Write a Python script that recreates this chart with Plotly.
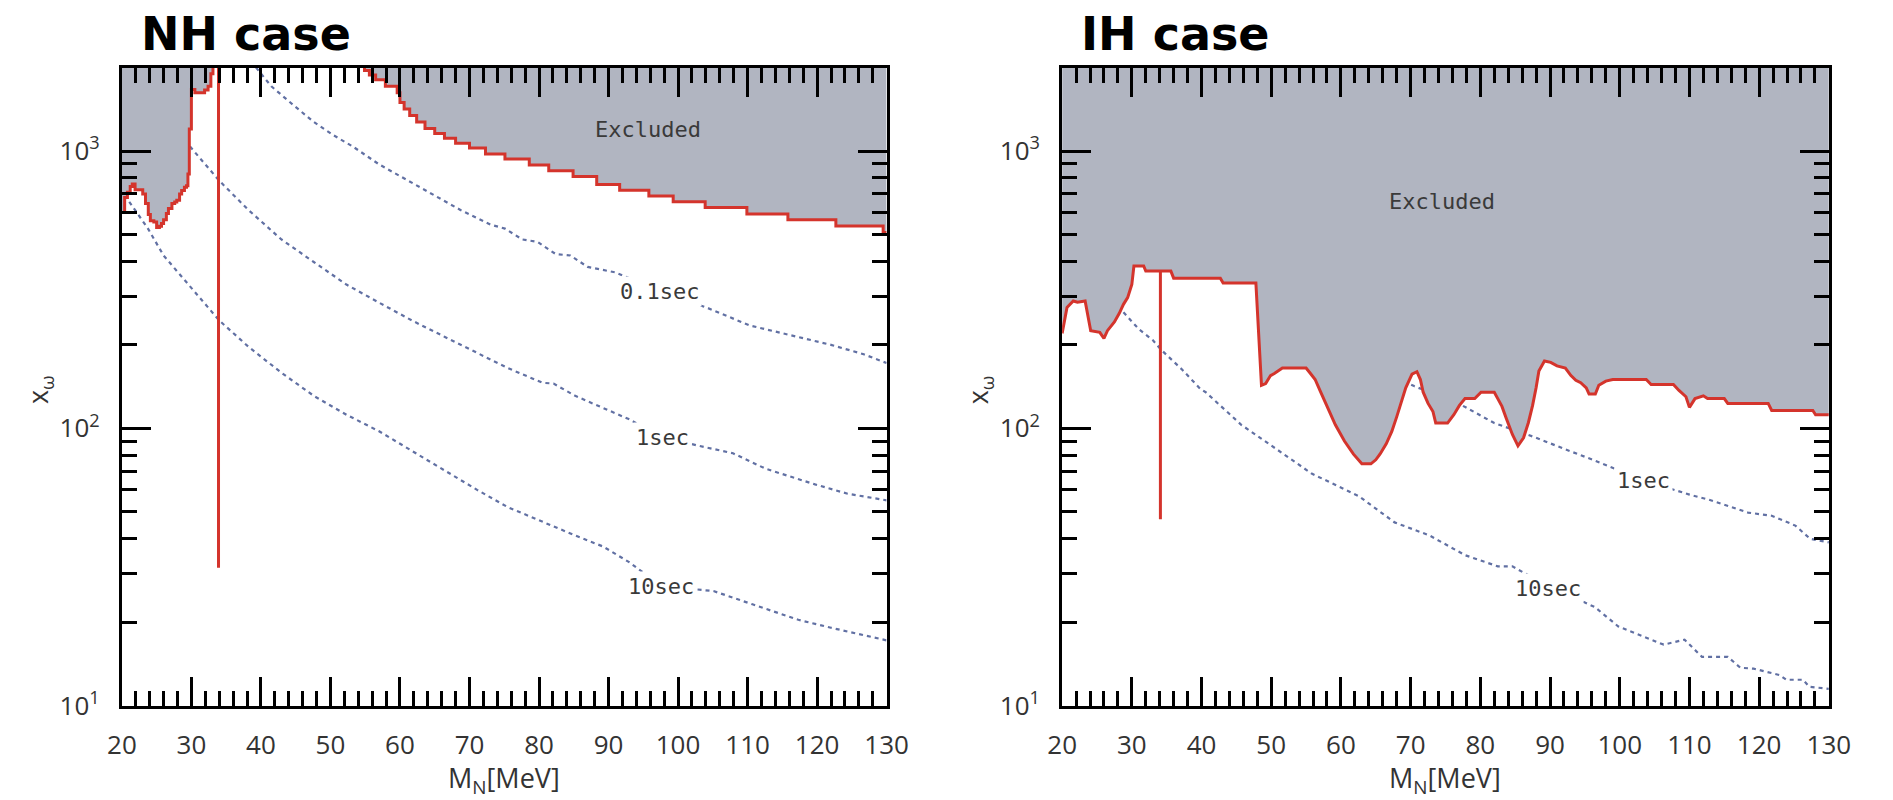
import math
import plotly.graph_objects as go

W, H = 1893, 800

# ---------------- NH case ----------------
# excluded-region edge (step curve: each value holds until the next mass)
nh_edge_m = [20.0, 20.4, 20.8, 21.2, 21.5, 21.9, 23.0, 23.4, 23.8, 24.1, 24.6, 25.0,
             25.4, 25.7, 26.0, 26.4, 26.7, 27.2, 27.6, 27.9, 28.3, 28.6, 29.0, 29.3,
             29.5, 29.7, 30.0, 30.5, 31.9, 32.4, 32.8, 33.1,
             54.9, 55.6, 56.5, 57.9, 59.6, 60.0, 60.6, 61.4, 62.4, 63.6, 65.0, 66.4,
             68.0, 70.0, 72.3, 75.1, 78.6, 81.4, 84.9, 88.3, 91.6, 95.8, 99.3, 103.9,
             109.9, 115.8, 122.7, 129.5, 130.0]
nh_edge_x = [600, 680, 710, 745, 760, 725, 700, 647, 590, 560, 555, 530,
             535, 548, 565, 595, 621, 647, 655, 665, 700, 721, 740, 750,
             826, 1200, 1667, 1623, 1660, 1711, 1900, 3000,
             1950, 1880, 1807, 1711, 1623, 1496, 1417, 1342, 1272, 1205, 1157, 1111,
             1067, 1025, 976, 935, 891, 849, 809, 758, 722, 689, 656, 625,
             593, 565, 537, 508, 508]

nh_stick_m = 33.9
nh_stick_x = [31.4, 2000]

nh_t01_m = [39.3, 41.5, 44.8, 47.6, 50.4, 53.2, 57.0, 60.7, 64.5, 68.7, 73.0, 75.1,
            77.6, 79.8, 82.4, 84.5, 87.0, 91.0, 97.4, 104.2, 110.3, 117.3, 122.0,
            126.7, 130.0]
nh_t01_x = [2000, 1711, 1455, 1273, 1141, 1039, 895, 793, 702, 613, 543, 525,
            480, 470, 425, 420, 382, 365, 312, 272, 235, 213, 200, 185, 172]

nh_t1_m = [29.8, 31.6, 34.0, 38.2, 42.9, 47.6, 52.3, 57.0, 61.7, 66.4, 71.1, 75.5,
           80.5, 82.1, 85.2, 89.5, 92.9, 97.8, 102.8, 107.9, 112.6, 119.7, 124.4,
           130.0]
nh_t1_x = [1038, 920, 782, 613, 481, 398, 330, 284, 245, 214, 187, 165,
           146, 145, 131, 118, 108, 93, 86.7, 81.3, 71.5, 62.8, 58.1, 55]

nh_t10_m = [20.4, 23.7, 26.0, 28.8, 31.6, 34.0, 38.2, 42.9, 47.6, 52.3, 57.0, 61.7,
            66.4, 71.1, 75.5, 80.5, 85.2, 89.2, 92.9, 97.6, 105.1, 110.7, 117.3,
            122.0, 130.0]
nh_t10_x = [692, 528, 420, 348, 288, 245, 197, 159, 131, 112, 97.6, 83,
            70.6, 60, 52, 46, 41.1, 37.5, 33, 27.0, 25.9, 23.2, 20.4, 19.1, 17.2]

# ---------------- IH case ----------------
ih_edge_m = [20.0, 20.7, 21.6, 22.2, 23.3, 24.1, 25.4, 26.0, 26.5, 27.5, 28.2, 28.8,
             29.4, 30.0, 30.3, 31.7, 32.0, 35.6, 36.0, 42.7, 43.1, 47.8, 48.6, 49.2,
             49.9, 50.5, 51.6, 55.0, 55.6, 56.3, 57.1, 58.0, 59.2, 60.5, 61.8, 63.0,
             64.3, 65.0, 65.6, 66.5, 67.3, 68.0, 68.5, 69.3, 70.2, 70.9, 71.4, 71.8,
             72.5, 73.2, 73.6, 75.3, 76.2, 77.0, 77.8, 79.2, 80.1, 82.0, 82.5, 83.1,
             83.7, 84.6, 85.4, 86.2, 86.9, 87.5, 88.0, 88.4, 89.2, 90.1, 91.0, 92.2,
             93.0, 93.7, 94.4, 95.2, 95.6, 96.5, 97.0, 98.0, 99.0, 103.8, 104.5, 107.7,
             108.5, 109.5, 110.0, 110.5, 110.8, 112.0, 112.6, 115.0, 115.5, 121.3,
             121.8, 127.7, 128.1, 130.0]
ih_edge_x = [220, 273, 288, 285, 288, 225, 222, 211, 225, 242, 260, 280,
             296, 330, 385, 385, 369, 369, 348, 348, 334, 334, 143, 145,
             155, 158, 165, 165, 158, 150, 135, 120, 103, 90, 80.7, 74.5,
             74.5, 77, 80.7, 88, 97.5, 110, 121, 140, 157, 160, 150, 135,
             123, 115, 104.5, 104.5, 112, 121, 128, 128, 135, 135, 128, 120,
             109, 95, 86.5, 92.5, 105, 121, 140, 161, 175, 173, 168, 165,
             155, 149, 146, 140, 133, 133, 143, 148, 150, 150, 144, 144,
             137, 130, 119, 125, 128, 131, 128, 128, 123, 123,
             116, 116, 112, 112]

ih_stick_m = 34.1
ih_stick_x = [47, 369]

ih_t1_m = [68.0, 70.5, 74.0, 77.4, 82.0, 88.0, 92.2, 96.4, 103.4, 110.0, 112.8,
           118.4, 121.8, 125.2, 127.3, 130.0]
ih_t1_x = [152, 142, 131, 121, 104.5, 92.5, 84, 76.6, 65, 57.7, 55.3,
           49.7, 48.4, 44.6, 40, 38.8]

ih_t10_m = [28.8, 31.0, 33.0, 34.2, 37.2, 39.8, 40.6, 45.7, 50.8, 55.8, 62.6, 67.7,
            72.7, 77.8, 82.5, 84.6, 89.7, 96.4, 99.8, 104.0, 106.3, 109.3, 111.8,
            115.5, 117.3, 119.2, 122.9, 123.9, 126.3, 127.2, 130.0]
ih_t10_x = [262, 228, 208, 192, 163, 139, 135, 103, 84, 68.7, 56.9, 45.8,
            41.1, 34.9, 31.8, 31.8, 27, 22.7, 19.3, 17.5, 16.6, 17.3, 15.0,
            15.0, 13.7, 13.6, 12.9, 12.4, 12.4, 11.7, 11.5]

# text labels on the curves
nh_labels = [("0.1sec", 97.4, 312), ("1sec", 97.8, 93), ("10sec", 97.6, 27.0)]
ih_labels = [("1sec", 103.4, 65), ("10sec", 89.7, 26.5)]
nh_excl = (95.7, 1196)
ih_excl = (74.5, 656)

x_major = list(range(20, 131, 10))
x_minor = [v for v in range(22, 130, 2) if v % 10]
y_major = [10, 100, 1000]
y_major_text = ["10<sup>1</sup>", "10<sup>2</sup>", "10<sup>3</sup>"]
y_minor = [d * k for d in (10, 100) for k in range(2, 10)] + [2000]

FILL = "#b1b5c1"
RED = "#d4342c"
DOT = "#6170a3"
LABEL_FONT = dict(family="DejaVu Sans Mono, Liberation Mono, monospace", size=22, color="#3a3a3a")

fig = go.Figure()


def add_panel(xa, ya, edge_m, edge_x, shape, stick_m, stick_x, curves):
    # dotted lifetime contours
    for cm, cx in curves:
        fig.add_trace(go.Scatter(x=cm, y=cx, mode="lines", xaxis=xa, yaxis=ya,
                                 line=dict(color=DOT, width=2.2, dash="4px,4px"),
                                 showlegend=False, hoverinfo="skip"))
    # excluded region: filled from the edge up to far above the frame
    fig.add_trace(go.Scatter(x=[20, 130], y=[1e5, 1e5], mode="lines", xaxis=xa, yaxis=ya,
                             line=dict(width=0), showlegend=False, hoverinfo="skip"))
    fig.add_trace(go.Scatter(x=edge_m, y=edge_x, mode="lines", xaxis=xa, yaxis=ya,
                             line=dict(color=RED, width=3, shape=shape),
                             fill="tonexty", fillcolor=FILL,
                             showlegend=False, hoverinfo="skip"))
    fig.add_trace(go.Scatter(x=[stick_m, stick_m], y=stick_x, mode="lines",
                             xaxis=xa, yaxis=ya, line=dict(color=RED, width=3),
                             showlegend=False, hoverinfo="skip"))


add_panel("x", "y", nh_edge_m, nh_edge_x, "hv", nh_stick_m, nh_stick_x,
          [(nh_t01_m, nh_t01_x), (nh_t1_m, nh_t1_x), (nh_t10_m, nh_t10_x)])
add_panel("x2", "y2", ih_edge_m, ih_edge_x, "linear", ih_stick_m, ih_stick_x,
          [(ih_t1_m, ih_t1_x), (ih_t10_m, ih_t10_x)])

TICKFONT = dict(family="Open Sans, sans-serif", size=26, color="#333333")

xaxis_common = dict(
    range=[20, 130], tickmode="array", tickvals=x_major,
    ticks="inside", ticklen=29, tickwidth=3, tickcolor="black",
    showline=True, linewidth=3, linecolor="black", mirror="ticks",
    showgrid=False, zeroline=False, tickfont=TICKFONT, ticklabelstandoff=14,
    minor=dict(tickmode="array", tickvals=x_minor, ticks="inside", ticklen=15,
               tickwidth=3, tickcolor="black", showgrid=False),
)
yaxis_common = dict(
    type="log", range=[1, math.log10(2000)], tickmode="array",
    tickvals=y_major, ticktext=y_major_text,
    ticks="inside", ticklen=29, tickwidth=3, tickcolor="black",
    showline=True, linewidth=3, linecolor="black", mirror="ticks",
    showgrid=False, zeroline=False, tickfont=TICKFONT, ticklabelstandoff=14,
    minor=dict(tickmode="array", tickvals=y_minor, ticks="inside", ticklen=15,
               tickwidth=3, tickcolor="black", showgrid=False),
    domain=[79 / H, 731 / H],
)

fig.update_layout(
    width=W, height=H, margin=dict(l=0, r=0, t=0, b=0),
    paper_bgcolor="white", plot_bgcolor="white", showlegend=False,
    xaxis=dict(xaxis_common, domain=[109 / W, 889 / W], anchor="y"),
    yaxis=dict(yaxis_common, anchor="x"),
    xaxis2=dict(xaxis_common, domain=[1068 / W, 1850 / W], anchor="y2"),
    yaxis2=dict(yaxis_common, anchor="x2"),
)

ann = []
for xr, yr, labels, excl in (("x", "y", nh_labels, nh_excl), ("x2", "y2", ih_labels, ih_excl)):
    for txt, m, v in labels:
        ann.append(dict(text=txt, x=m, y=math.log10(v), xref=xr, yref=yr, showarrow=False,
                        font=LABEL_FONT, bgcolor="white", borderpad=2))
    ann.append(dict(text="Excluded", x=excl[0], y=math.log10(excl[1]), xref=xr, yref=yr,
                    showarrow=False, font=LABEL_FONT))

AX_TITLE = dict(family="Open Sans, sans-serif", size=27, color="#333333")
for x0, x1, title in ((109, 889, "NH case"), (1068, 1850, "IH case")):
    # panel heading
    ann.append(dict(text="<b>%s</b>" % title, x=(x0 + 17) / W, y=1 - 35 / H,
                    xref="paper", yref="paper", xanchor="left", yanchor="middle",
                    showarrow=False,
                    font=dict(family="DejaVu Sans, sans-serif", size=46, color="black")))
    # axis titles
    ann.append(dict(text="M<sub>N</sub>[MeV]", x=(x0 + x1) / 2 / W, y=1 - 796 / H,
                    xref="paper", yref="paper", xanchor="center", yanchor="middle",
                    showarrow=False, font=AX_TITLE))
    ann.append(dict(text="x<sub>ω</sub>", x=(x0 - 84) / W, y=1 - 398 / H,
                    xref="paper", yref="paper", xanchor="center", yanchor="middle",
                    textangle=-90, showarrow=False, font=AX_TITLE))

fig.update_layout(annotations=ann)
fig.write_html("out.html")
